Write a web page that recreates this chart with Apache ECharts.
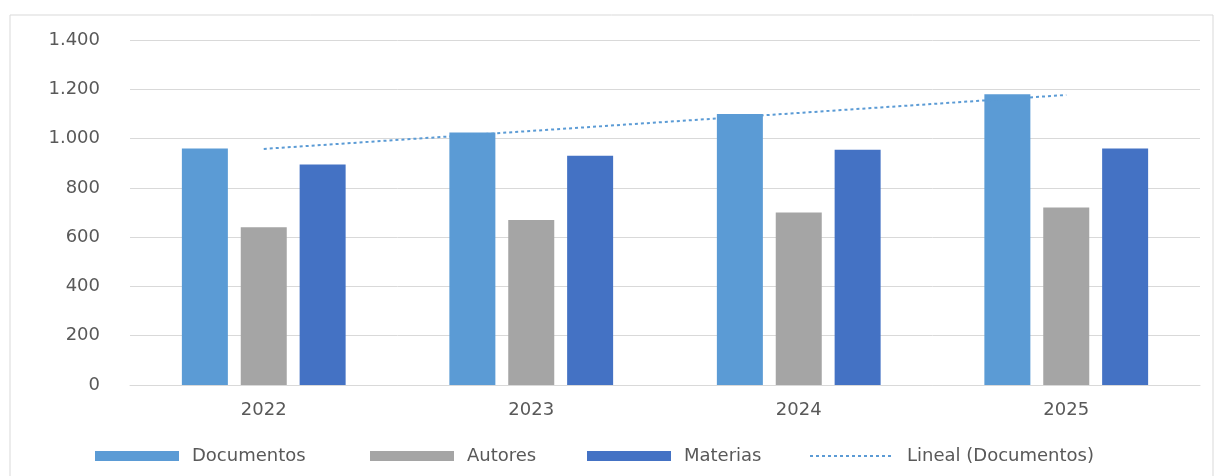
<!DOCTYPE html>
<html>
<head>
<meta charset="utf-8">
<script src="https://cdn.jsdelivr.net/npm/echarts@6/dist/echarts.min.js"></script>
<style>
html,body{margin:0;padding:0;background:#fff;}
#chart{width:1228px;height:476px;}
</style>
</head>
<body>
<div id="chart"></div>
<script>
const categories = ['2022', '2023', '2024', '2025'];
const documentos = [960, 1025, 1100, 1180];
const autores = [640, 670, 700, 720];
const materias = [895, 930, 955, 960];
const lineal = [958, 1031, 1104, 1177];
const yTicks = [0, 200, 400, 600, 800, 1000, 1200, 1400];
const legendNames = ['Documentos', 'Autores', 'Materias', 'Lineal (Documentos)'];

const FONT = 'DejaVu Sans';
const TXT = '#595959';

function fmt(v) {
  return String(v).replace(/\B(?=(\d{3})+(?!\d))/g, '.');
}

const legendLeft = [95, 370, 587, 809];
const legends = legendNames.map((n, i) => ({
  left: legendLeft[i],
  top: 447,
  padding: 0,
  itemWidth: 84,
  itemHeight: 10,
  textStyle: { fontFamily: FONT, fontSize: 18, color: TXT, padding: [0, 0, 0, 8] },
  data: [i < 3 ? { name: n, icon: 'rect' } : { name: n, itemStyle: { opacity: 0 } }]
}));

const chart = echarts.init(document.getElementById('chart'));
chart.setOption({
  animation: false,
  backgroundColor: '#fff',
  graphic: [{
    type: 'rect',
    shape: { x: 10, y: 15, width: 1203, height: 480 },
    style: { fill: 'none', stroke: '#d9d9d9', lineWidth: 1 },
    silent: true
  }],
  grid: { left: 130, right: 28, top: 40, bottom: 91, containLabel: false },
  legend: legends,
  xAxis: {
    type: 'category',
    data: categories,
    axisLine: { show: true, lineStyle: { color: '#d9d9d9' } },
    axisTick: { show: false },
    axisLabel: { fontFamily: FONT, fontSize: 18, color: TXT, margin: 16 }
  },
  yAxis: {
    type: 'value',
    min: yTicks[0],
    max: yTicks[yTicks.length - 1],
    interval: 200,
    axisLine: { show: false },
    axisTick: { show: false },
    splitLine: { lineStyle: { color: '#d9d9d9', width: 1 } },
    axisLabel: { fontFamily: FONT, fontSize: 18, color: TXT, margin: 30, formatter: fmt }
  },
  series: [
    { name: 'Documentos', type: 'bar', data: documentos, barWidth: 46, barGap: '28%',
      itemStyle: { color: '#5B9BD5' } },
    { name: 'Autores', type: 'bar', data: autores, barWidth: 46, barGap: '28%',
      itemStyle: { color: '#A5A5A5' } },
    { name: 'Materias', type: 'bar', data: materias, barWidth: 46, barGap: '28%',
      itemStyle: { color: '#4472C4' } },
    { name: 'Lineal (Documentos)', type: 'line', data: lineal, symbol: 'none', z: 5,
      lineStyle: { color: '#5B9BD5', width: 2, type: [3, 3] },
      itemStyle: { color: '#5B9BD5' } }
  ]
});
</script>
</body>
</html>
